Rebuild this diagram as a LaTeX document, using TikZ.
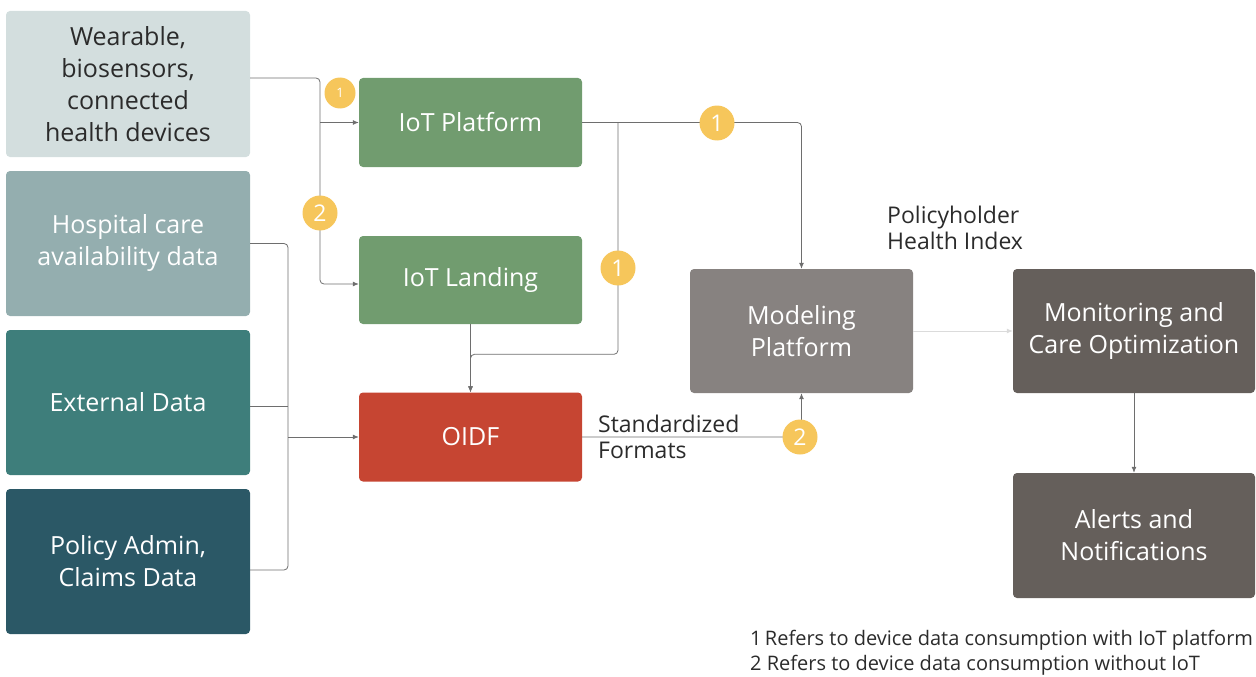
\documentclass[tikz,border=0pt]{standalone}
\usepackage{fontspec}
\setmainfont{Open Sans}
\usetikzlibrary{arrows.meta}
\definecolor{wearfill}{HTML}{D3DEDE}
\definecolor{hospfill}{HTML}{94AEAF}
\definecolor{extfill}{HTML}{3E7E7B}
\definecolor{polfill}{HTML}{2B5866}
\definecolor{iotfill}{HTML}{719C6F}
\definecolor{oidffill}{HTML}{C64532}
\definecolor{modelfill}{HTML}{878280}
\definecolor{darkfill}{HTML}{655F5B}
\definecolor{badgefill}{HTML}{F6C65B}
\definecolor{wiregray}{HTML}{6E6E6E}
\definecolor{inkgray}{HTML}{2B2B2B}

\begin{document}
\begin{tikzpicture}[x=1pt,y=-1pt,
  box/.style={rounded corners=4pt, inner sep=0pt, align=center, text=white,
    font=\fontsize{25}{32}\selectfont},
  srcbox/.style={box, minimum width=244pt, minimum height=145pt},
  midbox/.style={box, minimum width=223pt, minimum height=89pt},
  endbox/.style={box, minimum width=242pt, minimum height=124pt},
  conn/.style={draw=wiregray, line width=0.8pt, rounded corners=4pt},
  arrow/.style={conn, -{Latex[length=6pt,width=5pt]}},
  badge/.style={circle, fill=badgefill, text=white, inner sep=0pt, minimum size=35pt,
    font=\fontsize{23}{23}\selectfont},
  note/.style={align=left, text=inkgray, inner sep=0pt}]
\useasboundingbox (0,0) rectangle (1256,677);

% sources
\node[srcbox, fill=wearfill, text=inkgray, minimum height=146pt] (wear) at (128,84) {Wearable,\\biosensors,\\connected\\health devices};
\node[srcbox, fill=hospfill] (hosp) at (128,243.5) {Hospital care\\availability data};
\node[srcbox, fill=extfill] (ext) at (128,402.5) {External Data};
\node[srcbox, fill=polfill] (pol) at (128,561.5) {Policy Admin,\\Claims Data};

% middle column
\node[midbox, fill=iotfill] (plat) at (470.5,122.5) {IoT Platform};
\node[midbox, fill=iotfill, minimum height=88pt] (land) at (470.5,280) {IoT Landing};
\node[midbox, fill=oidffill] (oidf) at (470.5,437) {OIDF};

% right side
\node[box, fill=modelfill, minimum width=223pt, minimum height=124pt] (model) at (801.5,331) {Modeling\\Platform};
\node[endbox, fill=darkfill] (mon) at (1134,331) {Monitoring and\\Care Optimization};
\node[endbox, fill=darkfill, minimum height=125pt] (alert) at (1134,535.5) {Alerts and\\Notifications};

% device feed
\coordinate (tapA) at (320,122.5);
\draw[arrow] ([yshift=6pt]wear.east) -| (320,284) -- ([yshift=-4pt]land.west);
\draw[arrow] (tapA) -- (plat.west);

% other data into OIDF
\coordinate (busB) at (288,437);
\draw[conn] (hosp.east) -| (288,570) -- ([yshift=-8.5pt]pol.east);
\draw[conn] ([yshift=-4pt]ext.east) -- ([yshift=-4pt]ext.east -| busB);
\draw[arrow] (busB) -- (oidf.west);

% platform outputs
\coordinate (tapC) at (618,122.5);
\draw[arrow] (plat.east) -| (model.north);
\draw[arrow] (tapC) |- ([yshift=38pt]oidf.north) -- (oidf.north);
\draw[arrow] (land.south) -- (oidf.north);
\draw[arrow] (oidf.east) -| (model.south);
\draw[arrow, draw=wiregray!25] (model.east) -- (mon.west);
\draw[arrow] (mon.south) -- (alert.north);

% numbered markers
\node[badge, minimum size=31pt, font=\fontsize{13}{13}\selectfont] (b1a) at (340,93) {1};
\node[badge] (b2a) at (320,213) {2};
\node[badge] (b1b) at (717,123) {1};
\node[badge] (b1c) at (618,268) {1};
\node[badge] (b2b) at (800,437) {2};

% labels
\node[note, anchor=north west, font=\fontsize{23}{26}\selectfont] (fmt) at (598,415) {Standardized\\Formats};
\node[note, anchor=north west, font=\fontsize{23}{26}\selectfont] (phi) at (887,206) {Policyholder\\Health Index};
\node[note, anchor=north west, font=\fontsize{20}{25}\selectfont] (legend) at (750,630) {1\,Refers to device data consumption with IoT platform\\2 Refers to device data consumption without IoT};
\end{tikzpicture}
\end{document}
